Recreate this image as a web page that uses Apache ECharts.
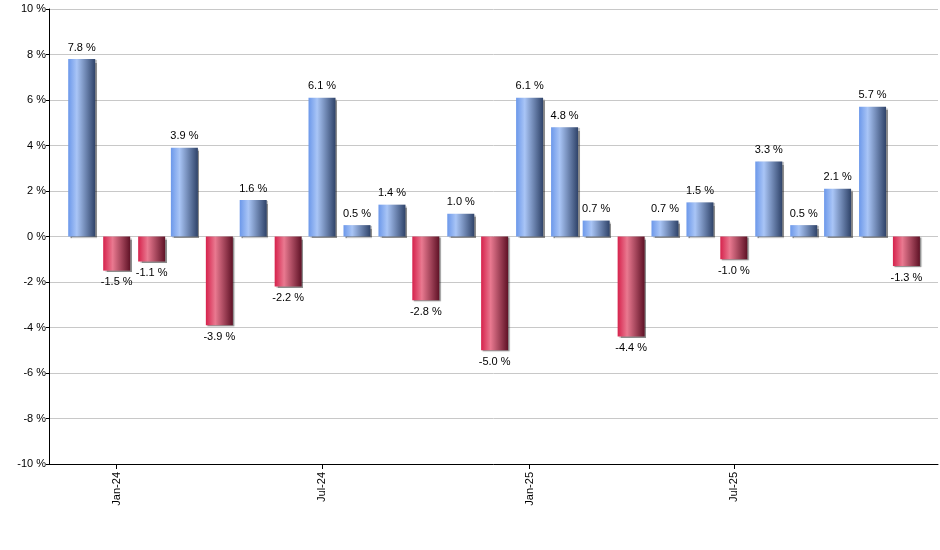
<!DOCTYPE html>
<html>
<head>
<meta charset="utf-8">
<script src="https://cdn.jsdelivr.net/npm/echarts@6/dist/echarts.min.js"></script>
<style>
html,body{margin:0;padding:0;background:#fff;}
#chart{width:940px;height:550px;}
</style>
</head>
<body>
<div id="chart"></div>
<script>
// Data
var months = ['2023-12','2024-01','2024-02','2024-03','2024-04','2024-05','2024-06','2024-07','2024-08','2024-09','2024-10','2024-11','2024-12',
              '2025-01','2025-02','2025-03','2025-04','2025-05','2025-06','2025-07','2025-08','2025-09','2025-10','2025-11','2025-12'];
var returns = [7.8,-1.5,-1.1,3.9,-3.9,1.6,-2.2,6.1,0.5,1.4,-2.8,1.0,-5.0,
               6.1,4.8,0.7,-4.4,0.7,1.5,-1.0,3.3,0.5,2.1,5.7,-1.3];
var tickMonths = ['2024-01','2024-07','2025-01','2025-07'];
var tickLabels = ['Jan-24','Jul-24','Jan-25','Jul-25'];
var axisStart = '2023-11-02';
var axisEnd = '2025-12-29';
var yTicks = [-10,-8,-6,-4,-2,0,2,4,6,8,10];

function toTime(s){
  var p = s.split('-');
  return Date.UTC(+p[0], +p[1]-1, p[2] ? +p[2] : 1);
}
var tickTimes = tickMonths.map(toTime);

var blueGrad = {type:'linear',x:0,y:0,x2:1,y2:0,colorStops:[
  {offset:0,color:'#6c98ea'},{offset:0.32,color:'#a9c5f6'},{offset:1,color:'#2f4369'}]};
var redGrad = {type:'linear',x:0,y:0,x2:1,y2:0,colorStops:[
  {offset:0,color:'#d6224c'},{offset:0.35,color:'#e97990'},{offset:1,color:'#5f1226'}]};

var seriesData = months.map(function(m,i){
  var v = returns[i];
  return {
    value:[toTime(m), v],
    itemStyle:{color: v>=0 ? blueGrad : redGrad},
    label:{position: v>=0 ? 'top' : 'bottom'}
  };
});

var FONT = 'Liberation Sans, Arial, sans-serif';
var chart = echarts.init(document.getElementById('chart'), null, {renderer:'canvas'});
chart.setOption({
  animation:false,
  backgroundColor:'#fff',
  grid:{left:49, right:2, top:9, bottom:86, containLabel:false},
  xAxis:{
    type:'value',
    min: toTime(axisStart),
    max: toTime(axisEnd),
    axisLine:{onZero:false, lineStyle:{color:'#000', width:1}},
    axisTick:{show:true, length:5, lineStyle:{color:'#000'}, customValues: tickTimes},
    axisLabel:{
      customValues: tickTimes,
      rotate:90, margin:8, color:'#000',
      fontFamily:FONT, fontSize:11,
      formatter:function(val){
        var idx = -1;
        for (var k=0;k<tickTimes.length;k++){ if (Math.abs(tickTimes[k]-val) < 86400000) idx = k; }
        return idx >= 0 ? tickLabels[idx] : '';
      }
    },
    splitLine:{show:false}
  },
  yAxis:{
    type:'value',
    min:yTicks[0], max:yTicks[yTicks.length-1], interval:2,
    axisLine:{show:true, lineStyle:{color:'#000', width:1}},
    axisTick:{show:true, length:3, lineStyle:{color:'#000'}},
    axisLabel:{
      color:'#000', margin:3,
      fontFamily:FONT, fontSize:11,
      formatter:function(v){ return v + ' %'; }
    },
    splitLine:{show:true, lineStyle:{color:'#c8c8c8', width:1}}
  },
  series:[{
    type:'bar',
    barWidth:27,
    data:seriesData,
    itemStyle:{
      shadowColor:'rgba(0,0,0,0.45)', shadowBlur:1, shadowOffsetX:1.5, shadowOffsetY:1
    },
    label:{
      show:true, distance:6, color:'#000',
      fontFamily:FONT, fontSize:11,
      formatter:function(p){ return p.value[1].toFixed(1) + ' %'; }
    }
  }]
});
</script>
</body>
</html>
